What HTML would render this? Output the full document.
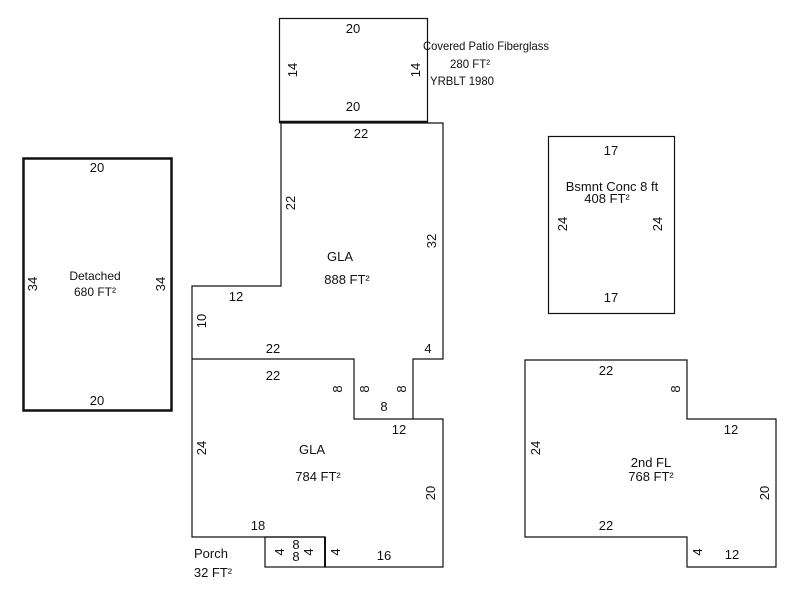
<!DOCTYPE html>
<html><head><meta charset="utf-8"><style>
html,body{margin:0;padding:0;background:#fff;}
svg{display:block;}
text{font-family:"Liberation Sans",Arial,sans-serif;font-size:13px;fill:#111;}
.s{font-size:12px;}
</style></head><body>
<svg width="800" height="600" viewBox="0 0 800 600" xmlns="http://www.w3.org/2000/svg">
<g fill="none" stroke="#111" stroke-width="1.2">
<rect x="279.5" y="18.5" width="148" height="104"/>
<line x1="279" y1="122" x2="428" y2="122" stroke-width="2.5"/>
<polygon points="281,123 443,123 443,359 413,359 413,419 443,419 443,567 325,567 325,537 192,537 192,286 281,286"/>
<polyline points="192,359 354,359 354,419 413,419"/>
<rect x="265" y="537" width="60" height="30"/>
<line x1="325" y1="537" x2="325" y2="567" stroke-width="2"/>
<rect x="23.5" y="158.5" width="148" height="252" stroke-width="2.5"/>
<rect x="548.5" y="136.5" width="126" height="177"/>
<polygon points="525,360 687,360 687,419 776,419 776,567 687,567 687,537 525,537"/>
</g>
<g text-anchor="middle">
<text x="353" y="33">20</text>
<text x="353" y="111">20</text>
<text transform="translate(297,70) rotate(-90)">14</text>
<text transform="translate(420,70) rotate(-90)">14</text>
<text x="486" y="50" class="s" textLength="126" lengthAdjust="spacingAndGlyphs">Covered Patio Fiberglass</text>
<text x="470" y="68" class="s" textLength="40" lengthAdjust="spacingAndGlyphs">280 FT²</text>
<text x="462" y="85" class="s" textLength="64" lengthAdjust="spacingAndGlyphs">YRBLT 1980</text>
<text x="361" y="138">22</text>
<text transform="translate(295,203) rotate(-90)">22</text>
<text transform="translate(436,241) rotate(-90)">32</text>
<text x="340" y="261">GLA</text>
<text x="347" y="284">888 FT²</text>
<text x="236" y="301">12</text>
<text transform="translate(206,321) rotate(-90)">10</text>
<text x="273" y="353">22</text>
<text x="428" y="353">4</text>
<text x="273" y="380">22</text>
<text transform="translate(342,389) rotate(-90)">8</text>
<text transform="translate(369,389) rotate(-90)">8</text>
<text transform="translate(406,389) rotate(-90)">8</text>
<text x="384" y="411">8</text>
<text x="399" y="434">12</text>
<text transform="translate(206,448) rotate(-90)">24</text>
<text x="312" y="454">GLA</text>
<text x="318" y="481">784 FT²</text>
<text transform="translate(435,493) rotate(-90)">20</text>
<text x="258" y="530">18</text>
<text x="384" y="560">16</text>
<text transform="translate(340,552) rotate(-90)">4</text>
<text x="296" y="549">8</text>
<text x="296" y="561">8</text>
<text transform="translate(284,552) rotate(-90)">4</text>
<text transform="translate(313,552) rotate(-90)">4</text>
<text x="211" y="558">Porch</text>
<text x="213" y="577">32 FT²</text>
<text x="97" y="172">20</text>
<text x="97" y="405">20</text>
<text transform="translate(37,284) rotate(-90)">34</text>
<text transform="translate(165,284) rotate(-90)">34</text>
<text x="95" y="280" class="s">Detached</text>
<text x="95" y="296" class="s">680 FT²</text>
<text x="611" y="155">17</text>
<text x="611" y="302">17</text>
<text transform="translate(567,224) rotate(-90)">24</text>
<text transform="translate(662,224) rotate(-90)">24</text>
<text x="612" y="191">Bsmnt Conc 8 ft</text>
<text x="607" y="203">408 FT²</text>
<text x="606" y="375">22</text>
<text transform="translate(680,389) rotate(-90)">8</text>
<text x="731" y="434">12</text>
<text transform="translate(540,448) rotate(-90)">24</text>
<text x="651" y="467">2nd FL</text>
<text x="651" y="481">768 FT²</text>
<text transform="translate(769,493) rotate(-90)">20</text>
<text x="606" y="530">22</text>
<text transform="translate(702,552) rotate(-90)">4</text>
<text x="732" y="559">12</text>
</g>
</svg>
</body></html>
